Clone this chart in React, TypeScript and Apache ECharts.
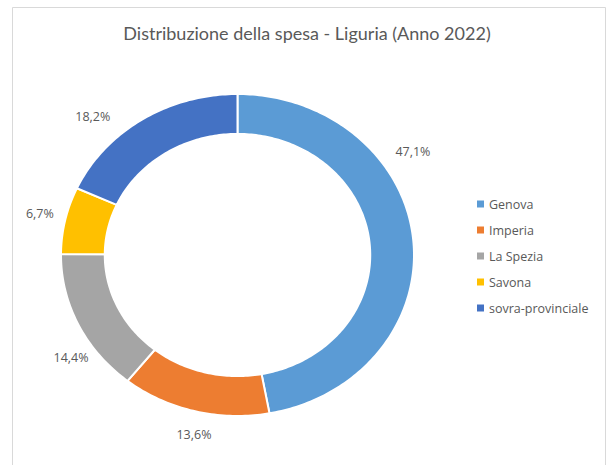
import React, { useEffect, useRef } from "react";
import * as echarts from "echarts";

const categories = ["Genova", "Imperia", "La Spezia", "Savona", "sovra-provinciale"];
const shares = [47.1, 13.6, 14.4, 6.7, 18.2];
const labels = ["47,1%", "13,6%", "14,4%", "6,7%", "18,2%"];
const colors = ["#5B9BD5", "#ED7D31", "#A5A5A5", "#FFC000", "#4472C4"];
// label placement (angle clockwise from top in degrees, radius factor)
const labelAngles = [57, 192.5, 236, 283, 316.4];
const labelRadii = [1.185, 1.14, 1.138, 1.149, 1.189];
const titleText = "Distribuzione della spesa - Liguria (Anno 2022)";

const CX = 237.5;
const CY = 255;
const RX = 176.5;
const RY = 161;
const INNER = 0.752;

export default function App() {
  const ref = useRef<HTMLDivElement>(null);
  useEffect(() => {
    if (!ref.current) return;
    const chart = echarts.init(ref.current, undefined, { renderer: "svg" });
    const total = shares.reduce((a, b) => a + b, 0);
    const starts: number[] = [];
    let acc = 0;
    shares.forEach((v) => {
      starts.push(acc);
      acc += v;
    });
    const series = categories.map((name, i) => ({
      type: "custom",
      name,
      coordinateSystem: "none",
      itemStyle: { color: colors[i] },
      data: [[shares[i]]],
      renderItem: (params: any, api: any) => {
        const v = api.value(0);
        const a0 = (starts[i] / total) * Math.PI * 2;
        const a1 = a0 + (v / total) * Math.PI * 2;
        const n = Math.max(4, Math.ceil(((a1 - a0) * 180) / Math.PI));
        const pts: number[][] = [];
        for (let k = 0; k <= n; k++) {
          const t = a0 + ((a1 - a0) * k) / n;
          pts.push([CX + RX * Math.sin(t), CY - RY * Math.cos(t)]);
        }
        for (let k = n; k >= 0; k--) {
          const t = a0 + ((a1 - a0) * k) / n;
          pts.push([CX + RX * INNER * Math.sin(t), CY - RY * INNER * Math.cos(t)]);
        }
        const la = (labelAngles[i] * Math.PI) / 180;
        return {
          type: "group",
          children: [
            {
              type: "polygon",
              shape: { points: pts },
              style: { fill: api.visual("color"), stroke: "#ffffff", lineWidth: 2 },
            },
            {
              type: "text",
              x: CX + RX * labelRadii[i] * Math.sin(la),
              y: CY - RY * labelRadii[i] * Math.cos(la),
              style: {
                text: labels[i],
                fill: "#595959",
                fontSize: 12.5,
                fontFamily: "Open Sans",
                align: "center",
                verticalAlign: "middle",
              },
            },
          ],
        };
      },
    }));
    chart.setOption({
      animation: false,
      title: {
        text: titleText,
        left: "center",
        top: 19,
        textStyle: { fontFamily: "Lato", fontSize: 18, fontWeight: "normal", color: "#595959" },
      },
      legend: {
        orient: "vertical",
        left: 472,
        top: 191,
        icon: "rect",
        itemWidth: 7,
        itemHeight: 7,
        itemGap: 10,
        data: categories,
        textStyle: { fontFamily: "Open Sans", fontSize: 12.5, color: "#595959", lineHeight: 16 },
      },
      graphic: [
        {
          type: "rect",
          shape: { x: 12.5, y: 7.5, width: 593, height: 480 },
          style: { fill: "none", stroke: "#d9d9d9", lineWidth: 1 },
          silent: true,
        },
      ],
      series,
    });
    return () => chart.dispose();
  }, []);
  return (
    <div style={{ position: "absolute", left: 0, top: 0, width: 614, height: 465, background: "#fff" }}>
      <div ref={ref} style={{ width: 614, height: 465 }} />
    </div>
  );
}
